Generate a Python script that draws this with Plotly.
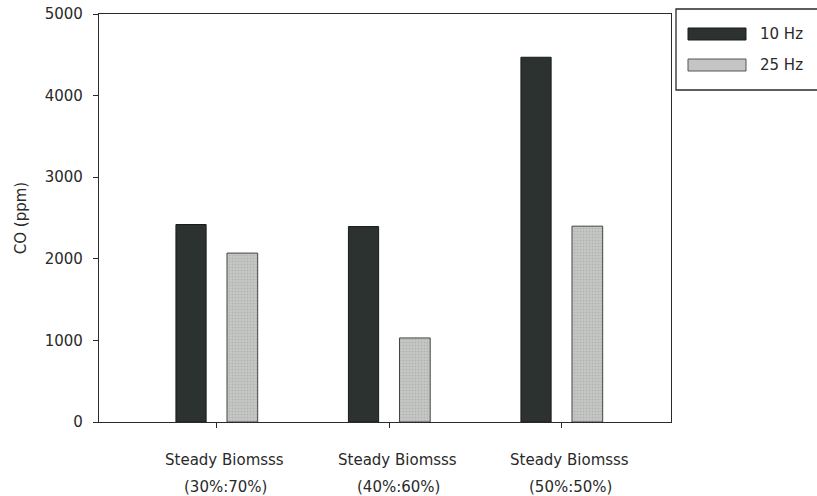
import plotly.graph_objects as go

# CO concentration for each biomass blend at two operating frequencies
categories = ["Steady Biomsss", "Steady Biomsss", "Steady Biomsss"]
ratios = ["(30%:70%)", "(40%:60%)", "(50%:50%)"]
series_names = ["10 Hz", "25 Hz"]
co_10hz = [2420, 2395, 4470]
co_25hz = [2070, 1030, 2400]
y_ticks = [0, 1000, 2000, 3000, 4000, 5000]

x_idx = list(range(len(categories)))
font_family = "DejaVu Sans, Verdana, sans-serif"
ink = "#2a2a2a"
fsize = 15

fig = go.Figure()
fig.add_trace(go.Bar(
    x=x_idx, y=co_10hz, name=series_names[0],
    width=0.175, offset=-0.238,
    marker=dict(color="#2c3230", line=dict(color="#1a1a1a", width=1)),
    showlegend=False,
))
fig.add_trace(go.Bar(
    x=x_idx, y=co_25hz, name=series_names[1],
    width=0.178, offset=0.058,
    marker=dict(color="#c3c6c3", line=dict(color="#444444", width=1),
                pattern=dict(shape=".", fgcolor="#9a9d9a", bgcolor="#c3c6c3",
                             size=3, solidity=0.25)),
    showlegend=False,
))

fig.update_layout(
    width=817, height=496,
    margin=dict(l=99, r=146, t=14, b=74, autoexpand=False),
    paper_bgcolor="white", plot_bgcolor="white",
    barmode="overlay",
    font=dict(family=font_family, size=fsize, color=ink),
    showlegend=False,
)
fig.update_xaxes(
    range=[-0.684, 2.632], automargin=False,
    tickvals=x_idx, ticktext=["" for _ in x_idx],
    ticks="outside", ticklen=5, tickcolor=ink, tickwidth=1,
    showline=True, linecolor=ink, linewidth=1.3, mirror=True,
    showgrid=False, zeroline=False,
)
fig.update_yaxes(
    range=[0, 5000], tickvals=y_ticks, automargin=False,
    ticks="outside", ticklen=5, tickcolor=ink, tickwidth=1,
    ticklabelstandoff=7,
    showline=True, linecolor=ink, linewidth=1.3, mirror=True,
    showgrid=False, zeroline=False,
    title=dict(text="CO (ppm)", standoff=14, font=dict(size=fsize)),
)

# Two-line category labels under each group
for i, (name, ratio) in enumerate(zip(categories, ratios)):
    fig.add_annotation(x=i, y=0, xref="x", yref="paper", text=name,
                       showarrow=False, yanchor="middle", yshift=-38, xshift=8,
                       font=dict(size=fsize))
    fig.add_annotation(x=i, y=0, xref="x", yref="paper", text=ratio,
                       showarrow=False, yanchor="middle", yshift=-65, xshift=9,
                       font=dict(size=fsize))

# Framed legend to the right of the plot area
px_w, px_h = 572, 408
def px_x(p):
    return (p - 99) / px_w
def px_y(p):
    return (422 - p) / px_h

fig.add_shape(type="rect", xref="paper", yref="paper",
              x0=px_x(676), x1=px_x(830), y0=px_y(90), y1=px_y(9),
              line=dict(color=ink, width=1.3), fillcolor="white")
swatches = [
    dict(fill="#2c3230", line="#1a1a1a", y=34),
    dict(fill="#c3c6c3", line="#555555", y=65),
]
for sw, label in zip(swatches, series_names):
    fig.add_shape(type="rect", xref="paper", yref="paper",
                  x0=px_x(688), x1=px_x(746), y0=px_y(sw["y"] + 6), y1=px_y(sw["y"] - 6),
                  line=dict(color=sw["line"], width=1), fillcolor=sw["fill"])
    fig.add_annotation(x=px_x(758), y=px_y(sw["y"]), xref="paper", yref="paper",
                       text=label, showarrow=False, xanchor="left", yanchor="middle",
                       font=dict(size=fsize))

fig.write_html("out.html")
